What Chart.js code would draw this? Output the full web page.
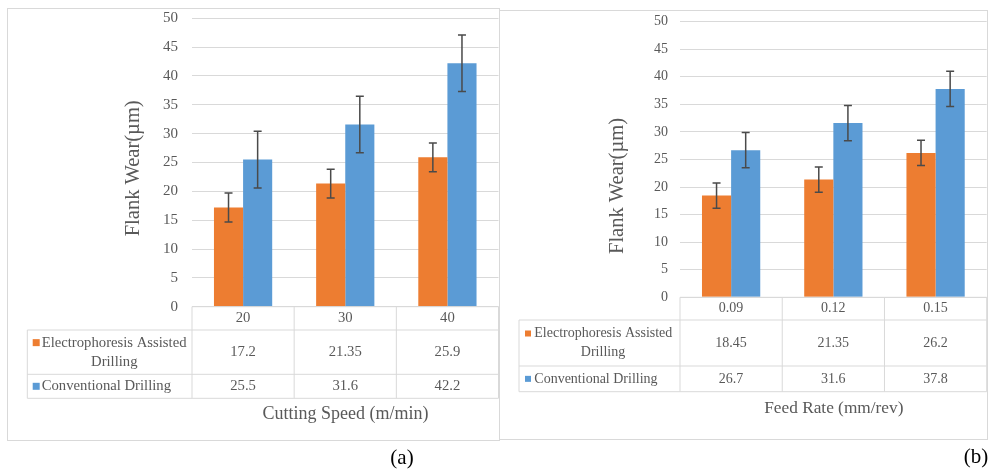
<!DOCTYPE html>
<html>
<head>
<meta charset="utf-8">
<script src="https://cdn.jsdelivr.net/npm/chart.js@4.4.1/dist/chart.umd.min.js"></script>
<style>
  html, body { margin: 0; padding: 0; background: #fff; }
  body { width: 993px; height: 470px; position: relative; overflow: hidden; font-family: 'Liberation Serif', 'Times New Roman', serif; }
  .panel { position: absolute; border: 1px solid #d9d9d9; box-sizing: border-box; }
  #panelA { left: 7px; top: 8px; width: 493px; height: 433px; }
  #panelB { left: 499px; top: 10px; width: 489px; height: 430px; }
  canvas { position: absolute; left: 0; top: 0; }
  .tag { position: absolute; width: 40px; text-align: center; font-size: 21px; line-height: 24px; color: #000; }
</style>
</head>
<body>
<div class="panel" id="panelA"></div>
<div class="panel" id="panelB"></div>
<canvas id="chartSpeed" width="993" height="470"></canvas>
<canvas id="chartFeed" width="993" height="470"></canvas>
<div class="tag" style="left:382px; top:445px;">(a)</div>
<div class="tag" style="left:956px; top:444px;">(b)</div>

<script>
// datos
const seriesNames = ['Electrophoresis Assisted Drilling', 'Conventional Drilling'];
const seriesColors = ['#ED7D31', '#5B9BD5'];

const speedLabels = ['20', '30', '40'];
const speedEAD = [17.2, 21.35, 25.9];
const speedConv = [25.5, 31.6, 42.2];
const speedEADErr = [2.5, 2.5, 2.5];
const speedConvErr = [4.9, 4.9, 4.9];

const feedLabels = ['0.09', '0.12', '0.15'];
const feedEAD = [18.45, 21.35, 26.2];
const feedConv = [26.7, 31.6, 37.8];
const feedEADErr = [2.3, 2.3, 2.3];
const feedConvErr = [3.2, 3.2, 3.2];

const yTicks = { min: 0, max: 50, step: 5 };

Chart.defaults.font.family = "'Liberation Serif', 'Times New Roman', serif";
Chart.defaults.color = '#595959';

// barras de error
const errorBarsPlugin = {
    id: 'errorBars',
    afterDatasetsDraw(chart) {
        const ctx = chart.ctx;
        const y = chart.scales.y;
        ctx.save();
        ctx.strokeStyle = '#4a4a4a';
        ctx.lineWidth = 1.5;
        chart.data.datasets.forEach((ds, i) => {
            chart.getDatasetMeta(i).data.forEach((bar, j) => {
                const e = ds.errors[j];
                const top = y.getPixelForValue(ds.data[j] + e);
                const bot = y.getPixelForValue(ds.data[j] - e);
                ctx.beginPath();
                ctx.moveTo(bar.x, top); ctx.lineTo(bar.x, bot);
                ctx.moveTo(bar.x - 4, top); ctx.lineTo(bar.x + 4, top);
                ctx.moveTo(bar.x - 4, bot); ctx.lineTo(bar.x + 4, bot);
                ctx.stroke();
            });
        });
        ctx.restore();
    }
};

// tabla de datos debajo del grafico + titulos de ejes
const dataTablePlugin = {
    id: 'dataTable',
    afterDraw(chart, args, o) {
        const { ctx, chartArea } = chart;
        const x = chart.scales.x;
        const n = chart.data.labels.length;
        const w = (chartArea.right - chartArea.left) / n;
        const r = o.rows;
        ctx.save();
        ctx.strokeStyle = '#d9d9d9';
        ctx.lineWidth = 1;
        ctx.beginPath();
        ctx.moveTo(chartArea.left, r[0]); ctx.lineTo(chartArea.right, r[0]);
        for (let i = 1; i < r.length; i++) {
            ctx.moveTo(o.legendLeft, r[i]); ctx.lineTo(chartArea.right, r[i]);
        }
        for (let i = 0; i <= n; i++) {
            const xx = chartArea.left + i * w;
            ctx.moveTo(xx, r[0]); ctx.lineTo(xx, r[3]);
        }
        ctx.moveTo(o.legendLeft, r[1]); ctx.lineTo(o.legendLeft, r[3]);
        ctx.stroke();

        ctx.fillStyle = '#595959';
        ctx.textBaseline = 'middle';
        ctx.textAlign = 'center';
        ctx.font = o.tableFont + "px 'Liberation Serif'";
        const rowMid = [(r[0] + r[1]) / 2, (r[1] + r[2]) / 2, (r[2] + r[3]) / 2];
        chart.data.labels.forEach((lab, i) => {
            const cx = x.getPixelForValue(i);
            ctx.fillText(lab, cx, rowMid[0]);
            chart.data.datasets.forEach((ds, k) => {
                ctx.fillText(String(ds.data[i]), cx, rowMid[k + 1]);
            });
        });

        // leyenda en la tabla
        const s = o.swatch;
        ctx.fillStyle = seriesColors[0];
        ctx.fillRect(o.swatchX, rowMid[1] - 9.5 - s / 2, s, s);
        ctx.fillStyle = seriesColors[1];
        ctx.fillRect(o.swatchX, rowMid[2] - s / 2, s, s);
        ctx.fillStyle = '#595959';
        ctx.textAlign = 'left';
        ctx.fillText('Electrophoresis Assisted', o.textX, rowMid[1] - 9.5);
        ctx.fillText(seriesNames[1], o.textX, rowMid[2]);
        ctx.textAlign = 'center';
        ctx.fillText('Drilling', o.line2X, rowMid[1] + 9.5);

        // titulos
        ctx.font = o.xTitle.size + "px 'Liberation Serif'";
        ctx.fillText(o.xTitle.text, o.xTitle.x, o.xTitle.y);
        ctx.translate(o.yTitle.x, o.yTitle.y);
        ctx.rotate(-Math.PI / 2);
        ctx.font = o.yTitle.size + "px 'Liberation Serif'";
        ctx.fillText('Flank Wear(\u00b5m)', 0, 0);
        ctx.restore();
    }
};

function crearGrafica(id, labels, ead, conv, eadErr, convErr, lay) {
    const ctx = document.getElementById(id).getContext('2d');
    return new Chart(ctx, {
        type: 'bar',
        data: {
            labels: labels,
            datasets: [
                { label: seriesNames[0], data: ead, errors: eadErr, backgroundColor: seriesColors[0] },
                { label: seriesNames[1], data: conv, errors: convErr, backgroundColor: seriesColors[1] }
            ]
        },
        options: {
            responsive: false,
            animation: false,
            devicePixelRatio: 1,
            categoryPercentage: 0.57,
            barPercentage: 1,
            layout: {
                padding: { left: lay.plotLeft - 50, right: 993 - lay.plotRight, top: lay.plotTop, bottom: 470 - lay.plotBottom }
            },
            plugins: {
                legend: { display: false },
                tooltip: { enabled: false },
                dataTable: lay.table
            },
            scales: {
                x: { display: false },
                y: {
                    min: yTicks.min,
                    max: yTicks.max,
                    ticks: { stepSize: yTicks.step, padding: 0, font: { size: lay.tickSize }, color: '#595959' },
                    // marcas invisibles: solo separan las etiquetas del area
                    grid: { color: '#d9d9d9', drawTicks: true, tickLength: lay.tickPad, tickColor: 'rgba(0,0,0,0)' },
                    border: { display: false },
                    afterFit: s => { s.width = 50; }
                }
            }
        },
        plugins: [errorBarsPlugin, dataTablePlugin]
    });
}

crearGrafica('chartSpeed', speedLabels, speedEAD, speedConv, speedEADErr, speedConvErr, {
    plotLeft: 192, plotRight: 498.5, plotTop: 18.3, plotBottom: 306.7, tickPad: 14, tickSize: 15,
    table: {
        rows: [306.7, 330, 374.3, 398.3], legendLeft: 27.3, swatch: 7, swatchX: 32.7, textX: 41.7, line2X: 114.3,
        tableFont: 14.7,
        xTitle: { text: 'Cutting Speed (m/min)', x: 345.5, y: 414.3, size: 18 },
        yTitle: { x: 134, y: 168.3, size: 20.5 }
    }
});

crearGrafica('chartFeed', feedLabels, feedEAD, feedConv, feedEADErr, feedConvErr, {
    plotLeft: 680, plotRight: 986.7, plotTop: 21.7, plotBottom: 297.3, tickPad: 12, tickSize: 14,
    table: {
        rows: [297.3, 320, 366, 391.7], legendLeft: 519, swatch: 6, swatchX: 525, textX: 534.3, line2X: 603,
        tableFont: 14,
        xTitle: { text: 'Feed Rate (mm/rev)', x: 833.8, y: 408.3, size: 17.3 },
        yTitle: { x: 618, y: 186, size: 20.5 }
    }
});
</script>
</body>
</html>
